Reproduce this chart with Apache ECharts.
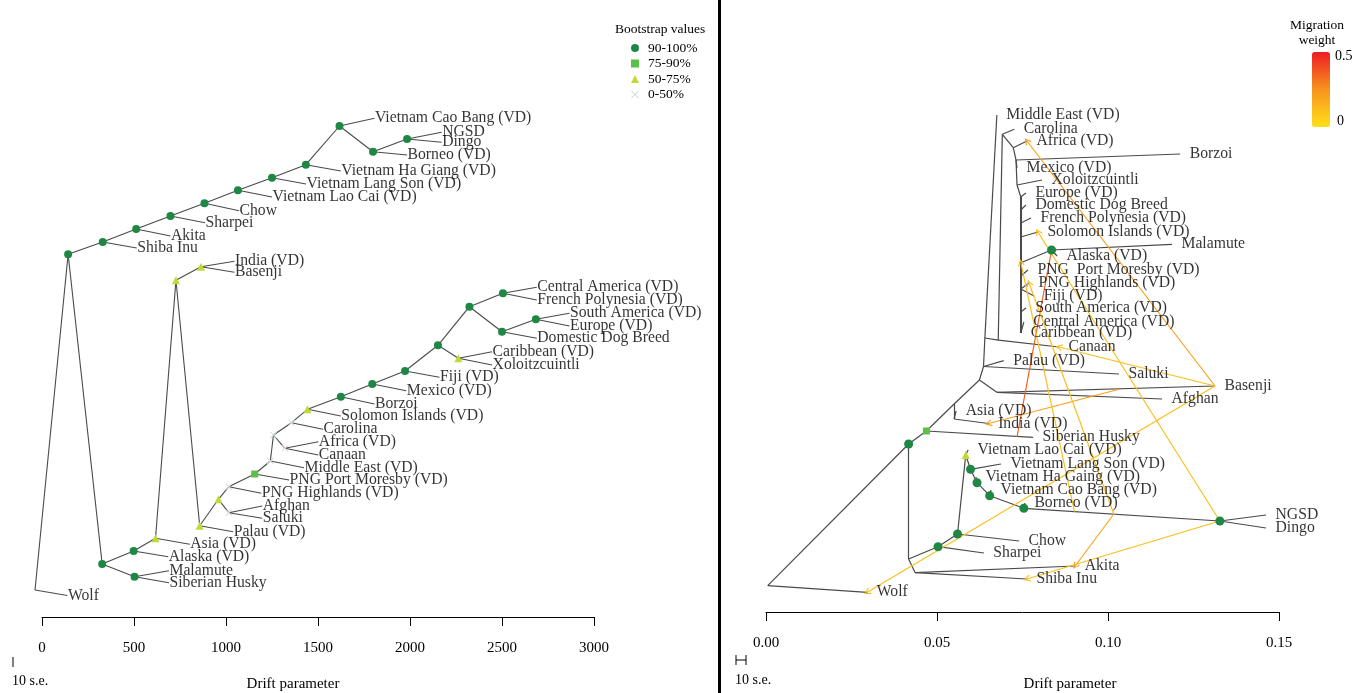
<!DOCTYPE html>
<html><head><meta charset="utf-8">
<script src="https://cdn.jsdelivr.net/npm/echarts@6/dist/echarts.min.js"></script>
<style>html,body{margin:0;padding:0;background:#fff}#c{width:1354px;height:693px}</style>
</head><body><div id="c"></div><script>
// ---------- tick labels ----------
const leftTicks = [0, 500, 1000, 1500, 2000, 2500, 3000];
const rightTicks = [0, 0.05, 0.10, 0.15];
const bootstrapClasses = ['90-100%', '75-90%', '50-75%', '0-50%'];
const classKeys = ['a', 'b', 'c', 'd'];

// ---------- left tree (drift, vertical position, bootstrap class) ----------
const leftNodes = [
  ['w0', -38, 590, ''], ['root', 142, 254.3, 'a'],
  ['shibaN', 330, 242, 'a'], ['akitaN', 512, 229, 'a'], ['sharpeiN', 698, 216, 'a'],
  ['chowN', 883, 203.3, 'a'], ['laocaiN', 1065, 190.3, 'a'], ['langsonN', 1250, 177.7, 'a'],
  ['hagiangN', 1434, 164.7, 'a'], ['caobangN', 1617, 126, 'a'], ['borneoN', 1799, 151.7, 'a'],
  ['ngsdN', 1984, 139, 'a'],
  ['b1', 327, 564, 'a'], ['alaskaN', 498, 551, 'a'], ['malN', 503, 576.7, 'a'],
  ['asiaN', 617, 538.3, 'c'], ['ibN0', 728, 280.3, 'c'], ['ibN', 864, 266.7, 'c'],
  ['palauN', 857, 525.7, 'c'], ['asN0', 959, 499.3, 'c'], ['asN', 1015, 512.7, 'd'],
  ['pnghN', 1015, 486.7, 'd'], ['pngpmN', 1156, 474, 'b'], ['meN', 1241, 461, 'd'],
  ['n435', 1258, 435, 'd'], ['afcN', 1320, 448.3, 'd'], ['carN', 1356, 422.7, 'd'],
  ['solN', 1443, 409.3, 'c'], ['borzN', 1624, 396.7, 'a'], ['mexN', 1795, 384, 'a'],
  ['fijiN', 1973, 371, 'a'], ['n345', 2152, 345.3, 'a'], ['cxN', 2263, 358.3, 'c'],
  ['n306', 2323, 306.7, 'a'], ['cfN', 2505, 293.3, 'a'], ['ddbN', 2500, 331.7, 'a'],
  ['saeN', 2684, 319.3, 'a']
];
const leftEdges = [
  ['w0', 'root'], ['root', 'shibaN'], ['shibaN', 'akitaN'], ['akitaN', 'sharpeiN'],
  ['sharpeiN', 'chowN'], ['chowN', 'laocaiN'], ['laocaiN', 'langsonN'], ['langsonN', 'hagiangN'],
  ['hagiangN', 'caobangN'], ['caobangN', 'borneoN'], ['borneoN', 'ngsdN'],
  ['root', 'b1'], ['b1', 'alaskaN'], ['b1', 'malN'], ['alaskaN', 'asiaN'], ['asiaN', 'ibN0'],
  ['ibN0', 'ibN'], ['ibN0', 'palauN'], ['palauN', 'asN0'], ['asN0', 'asN'], ['asN0', 'pnghN'],
  ['pnghN', 'pngpmN'], ['pngpmN', 'meN'], ['meN', 'n435'], ['n435', 'afcN'], ['n435', 'carN'],
  ['carN', 'solN'], ['solN', 'borzN'], ['borzN', 'mexN'], ['mexN', 'fijiN'], ['fijiN', 'n345'],
  ['n345', 'cxN'], ['n345', 'n306'], ['n306', 'cfN'], ['n306', 'ddbN'], ['ddbN', 'saeN']
];
const leftLeaves = [
  ['Vietnam Cao Bang (VD)', 1807, 118.3, 'caobangN'], ['NGSD', 2172, 132.3, 'ngsdN'],
  ['Dingo', 2172, 142.3, 'ngsdN'], ['Borneo (VD)', 1984, 155, 'borneoN'],
  ['Vietnam Ha Giang (VD)', 1624, 171, 'hagiangN'], ['Vietnam Lang Son (VD)', 1435, 184, 'langsonN'],
  ['Vietnam Lao Cai (VD)', 1250, 197, 'laocaiN'], ['Chow', 1071, 210.7, 'chowN'],
  ['Sharpei', 886, 222.7, 'sharpeiN'], ['Akita', 698, 236, 'akitaN'], ['Shiba Inu', 515, 248, 'shibaN'],
  ['India (VD)', 1046, 261.3, 'ibN'], ['Basenji', 1046, 272.3, 'ibN'],
  ['Central America (VD)', 2689, 287.3, 'cfN'], ['French Polynesia (VD)', 2689, 300, 'cfN'],
  ['South America (VD)', 2867, 313.3, 'saeN'], ['Europe (VD)', 2867, 326, 'saeN'],
  ['Domestic Dog Breed', 2689, 338.3, 'ddbN'], ['Caribbean (VD)', 2446, 351.7, 'cxN'],
  ['Xoloitzcuintli', 2446, 365, 'cxN'], ['Fiji (VD)', 2160, 377.3, 'fijiN'],
  ['Mexico (VD)', 1980, 390.7, 'mexN'], ['Borzoi', 1807, 404, 'borzN'],
  ['Solomon Islands (VD)', 1624, 416, 'solN'], ['Carolina', 1527, 429.3, 'carN'],
  ['Africa (VD)', 1502, 441.7, 'afcN'], ['Canaan', 1502, 455, 'afcN'],
  ['Middle East (VD)', 1424, 467.7, 'meN'], ['PNG Port Moresby (VD)', 1343, 480, 'pngpmN'],
  ['PNG Highlands (VD)', 1192, 493.3, 'pnghN'], ['Afghan', 1197, 506, 'asN'],
  ['Saluki', 1197, 518.3, 'asN'], ['Palau (VD)', 1039, 531.7, 'palauN'],
  ['Asia (VD)', 803, 544.3, 'asiaN'], ['Alaska (VD)', 686, 556.7, 'alaskaN'],
  ['Malamute', 690, 570.7, 'malN'], ['Siberian Husky', 690, 582.7, 'malN'],
  ['Wolf', 138, 595.5, 'w0']
];

// ---------- right tree ----------
const rightNodes = [
  ['rootR', 0.0005, 585.7, ''], ['n444', 0.0417, 444, 'a'], ['sq', 0.0469, 431, 'b'],
  ['aiN0', 0.0550, 404, ''], ['aiN', 0.0550, 419, ''], ['n380', 0.0624, 380, ''],
  ['afbN', 0.0675, 392.3, ''], ['palN', 0.0636, 366.5, ''], ['canN', 0.0640, 338, ''],
  ['k2', 0.0679, 340.2, ''], ['c1', 0.0691, 134.3, ''], ['c2', 0.0723, 147.7, ''],
  ['c3', 0.0731, 160, ''], ['x1', 0.0734, 185, ''], ['t1', 0.0745, 197, ''],
  ['t2', 0.0745, 210, ''], ['t3', 0.0745, 223, ''], ['t4', 0.0745, 237, ''],
  ['t5', 0.0745, 262.7, ''], ['t6', 0.0745, 276, ''], ['t7', 0.0745, 289, ''],
  ['t8', 0.0745, 312, ''], ['t9', 0.0745, 333, ''], ['alN', 0.0835, 250, 'a'],
  ['nb', 0.0417, 559, ''], ['shN', 0.0503, 546.7, 'a'], ['chN', 0.0560, 534, 'a'],
  ['lcN', 0.0584, 455, 'c'], ['lsN', 0.0598, 469.3, 'a'], ['hgN', 0.0617, 482.7, 'a'],
  ['cbN', 0.0654, 495.7, 'a'], ['boN', 0.0754, 508.3, 'a'], ['ndN', 0.1327, 521, 'a'],
  ['asb', 0.0436, 572.7, '']
];
const rightEdges = [
  ['rootR', 'n444'], ['n444', 'sq'], ['sq', 'aiN0'], ['aiN0', 'aiN'], ['aiN0', 'n380'],
  ['n380', 'afbN'], ['n380', 'palN'], ['palN', 'canN'], ['canN', 'k2'], ['k2', 'c1'],
  ['c1', 'c2'], ['c2', 'c3'], ['c3', 'x1'], ['x1', 't1'], ['t1', 't2'], ['t2', 't3'],
  ['t3', 't4'], ['t4', 't5'], ['t5', 'alN'], ['t5', 't6'], ['t6', 't7'], ['t7', 't8'],
  ['t8', 't9'], ['n444', 'nb'], ['nb', 'shN'], ['shN', 'chN'], ['chN', 'lcN'],
  ['lcN', 'lsN'], ['lsN', 'hgN'], ['hgN', 'cbN'], ['cbN', 'boN'], ['boN', 'ndN'], ['nb', 'asb']
];
// edges of the dense trunk that looks heavier in the reference
const rightHeavyEdges = ['t1', 't2', 't3', 't4', 't5', 't6', 't7', 't8', 't9'];
const rightLeaves = [
  ['Wolf', 0.0296, 592.3, 'rootR'], ['Siberian Husky', 0.0781, 437.3, 'sq'],
  ['Asia (VD)', 0.0556, 411, 'aiN'], ['India (VD)', 0.0651, 423.5, 'aiN'],
  ['Basenji', 0.1313, 386, 'afbN'], ['Afghan', 0.1158, 399, 'afbN'],
  ['Saluki', 0.1032, 374, 'palN'], ['Palau (VD)', 0.0695, 360.7, 'palN'],
  ['Middle East (VD)', 0.0675, 115, 'canN'], ['Canaan', 0.0857, 347, 'k2'],
  ['Carolina', 0.0726, 129.3, 'c1'], ['Africa (VD)', 0.0763, 141, 'c2'],
  ['Borzoi', 0.1211, 154, 'c3'], ['Mexico (VD)', 0.0734, 168, 'c3'],
  ['Xoloitzcuintli', 0.0807, 180, 'x1'], ['Europe (VD)', 0.0760, 193, 't1'],
  ['Domestic Dog Breed', 0.0760, 205, 't2'], ['French Polynesia (VD)', 0.0775, 218, 't3'],
  ['Solomon Islands (VD)', 0.0795, 232, 't4'], ['Malamute', 0.1187, 244.3, 'alN'],
  ['Alaska (VD)', 0.0851, 256, 'alN'], ['PNG  Port Moresby (VD)', 0.0766, 270, 't6'],
  ['PNG Highlands (VD)', 0.0769, 283, 't7'], ['Fiji (VD)', 0.0784, 296, 't7'],
  ['South America (VD)', 0.0760, 308, 't8'], ['Central America (VD)', 0.0754, 322, 't9'],
  ['Caribbean (VD)', 0.0746, 333, 't9'], ['Vietnam Lao Cai (VD)', 0.0591, 450, 'lcN'],
  ['Vietnam Lang Son (VD)', 0.0687, 464, 'lsN'], ['Vietnam Ha Gaing (VD)', 0.0614, 477, 'hgN'],
  ['Vietnam Cao Bang (VD)', 0.0658, 490, 'cbN'], ['Borneo (VD)', 0.0757, 503, 'boN'],
  ['NGSD', 0.1462, 515, 'ndN'], ['Dingo', 0.1462, 528, 'ndN'],
  ['Chow', 0.0740, 541, 'chN'], ['Sharpei', 0.0637, 553, 'shN'],
  ['Akita', 0.0904, 566, 'asb'], ['Shiba Inu', 0.0763, 579, 'asb']
];
// migration edges: source drift, source position, target, weight
const migrations = [
  [0.1313, 386, 'Africa (VD)', 0.21],
  [0.1313, 386, 'Canaan', 0.11],
  [0.1313, 386, 'Wolf', 0.11],
  [0.1035, 389, 'India (VD)', 0.21],
  [0.0734, 437, 'alN', 0.36],
  [0.1327, 521, 'Solomon Islands (VD)', 0.11],
  [0.1327, 521, 'Shiba Inu', 0.11],
  [0.1017, 514, 'Akita', 0.19],
  [0.1017, 514, 'PNG Highlands (VD)', 0.11],
  [0.0902, 511.6, 't5', 0.11]
];

// ---------- helpers ----------
const SERIF = 'Liberation Serif';
const INK = '#000';
function posMap(nodes, leaves) {
  const m = {};
  nodes.forEach(n => { m[n[0]] = [n[1], n[2]]; });
  leaves.forEach(l => { m[l[0]] = [l[1], l[2]]; });
  return m;
}
const LP = posMap(leftNodes, leftLeaves);
const RP = posMap(rightNodes, rightLeaves);
function edgeData(edges, leaves, P, heavy) {
  const all = edges.concat(leaves.map(l => [l[3], l[0]]));
  return all.map(e => {
    const d = { coords: [P[e[0]], P[e[1]]] };
    if (heavy && heavy.indexOf(e[1]) >= 0 && heavy.indexOf(e[0]) >= 0) d.lineStyle = { width: 2 };
    return d;
  });
}
const stops = [[0, [255, 224, 27]], [0.25, [247, 148, 29]], [0.5, [237, 28, 36]]];
function weightColor(w) {
  for (let i = 0; i < stops.length - 1; i++) {
    const [a, ca] = stops[i], [b, cb] = stops[i + 1];
    if (w <= b) {
      const t = (w - a) / (b - a);
      const c = ca.map((v, k) => Math.round(v + (cb[k] - v) * t));
      return 'rgb(' + c.join(',') + ')';
    }
  }
  return 'rgb(237,28,36)';
}
const markerStyle = {
  a: { symbol: 'circle', size: 8, color: '#1e8744' },
  b: { symbol: 'rect', size: 7, color: '#5cbf48' },
  c: { symbol: 'triangle', size: 8, color: '#c2d935' },
  d: { symbol: 'path://M0,1 L1,0 L5,4 L9,0 L10,1 L6,5 L10,9 L9,10 L5,6 L1,10 L0,9 L4,5 Z', size: 7, color: '#d4e2d4' }
};
const chevron = 'path://M5,0 L10,9 L8.6,10 L5,3.2 L1.4,10 L0,9 Z';

const series = [];
series.push({ type: 'lines', coordinateSystem: 'cartesian2d', xAxisIndex: 0, yAxisIndex: 0,
  polyline: false, clip: false, silent: true, z: 2,
  lineStyle: { color: '#4a4a4a', width: 1.1, opacity: 1 }, data: edgeData(leftEdges, leftLeaves, LP) });
series.push({ type: 'lines', coordinateSystem: 'cartesian2d', xAxisIndex: 1, yAxisIndex: 1,
  polyline: false, clip: false, silent: true, z: 2,
  lineStyle: { color: '#4a4a4a', width: 1.2, opacity: 1 },
  data: edgeData(rightEdges, rightLeaves, RP, rightHeavyEdges) });
migrations.forEach(m => {
  const col = weightColor(m[3]);
  series.push({ type: 'lines', coordinateSystem: 'cartesian2d', xAxisIndex: 1, yAxisIndex: 1,
    clip: false, silent: true, z: 3, symbol: ['none', chevron], symbolSize: 7,
    lineStyle: { color: col, width: 1.2, opacity: 1 },
    data: [{ coords: [[m[0], m[1]], RP[m[2]]] }] });
});
[[leftNodes, 0], [rightNodes, 1]].forEach(([nodes, ax]) => {
  classKeys.forEach((k, i) => {
    const pts = nodes.filter(n => n[3] === k).map(n => [n[1], n[2]]);
    if (!pts.length) return;
    const s = markerStyle[k];
    series.push({ type: 'scatter', name: bootstrapClasses[i], xAxisIndex: ax, yAxisIndex: ax,
      symbol: s.symbol, symbolSize: ax === 1 && k === 'a' ? 9 : s.size, clip: false, silent: true, z: 4,
      itemStyle: { color: s.color, opacity: 1 }, data: pts });
  });
});
[[leftLeaves, 0, 0, -2], [rightLeaves, 1, 9, 0]].forEach(([leaves, ax, dist, dx]) => {
  series.push({ type: 'scatter', xAxisIndex: ax, yAxisIndex: ax, symbolSize: 1, clip: false, silent: true, z: 5,
    itemStyle: { color: 'rgba(0,0,0,0)' },
    label: { show: true, position: 'right', distance: dist, formatter: '{b}', fontFamily: SERIF,
      fontSize: 15.7, color: INK, offset: [dx, 1] },
    labelLayout: { hideOverlap: false },
    data: leaves.map(l => ({ name: l[0], value: [l[1], l[2]] })) });
});
const dummyIndex = series.length;
series.push({ type: 'scatter', xAxisIndex: 1, yAxisIndex: 1, data: [], silent: true });

const axisCommon = {
  type: 'value',
  axisLine: { show: true, onZero: false, lineStyle: { color: INK, width: 1 } },
  axisTick: { show: true, length: 9, lineStyle: { color: INK, width: 1 } },
  splitLine: { show: false }
};
const option = {
  animation: false,
  backgroundColor: '#fff',
  grid: [
    { left: 42, width: 552, top: 0, height: 617, containLabel: false, outerBoundsMode: 'none' },
    { left: 766, width: 513, top: 0, height: 612, containLabel: false, outerBoundsMode: 'none' }
  ],
  xAxis: [
    Object.assign({}, axisCommon, { gridIndex: 0, min: leftTicks[0], max: leftTicks[leftTicks.length - 1],
      interval: leftTicks[1] - leftTicks[0],
      axisLabel: { fontFamily: SERIF, fontSize: 15, color: INK, margin: 24, formatter: v => String(v) } }),
    Object.assign({}, axisCommon, { gridIndex: 1, min: rightTicks[0], max: rightTicks[rightTicks.length - 1],
      interval: rightTicks[1] - rightTicks[0],
      axisLabel: { fontFamily: SERIF, fontSize: 15, color: INK, margin: 24, formatter: v => v.toFixed(2) } })
  ],
  yAxis: [
    { type: 'value', gridIndex: 0, min: 0, max: 617, inverse: true, show: false },
    { type: 'value', gridIndex: 1, min: 0, max: 612, inverse: true, show: false }
  ],
  legend: {
    orient: 'vertical', left: 631, top: 41, padding: 0, itemWidth: 8, itemHeight: 8, itemGap: 1.5,
    selectedMode: false, data: bootstrapClasses,
    textStyle: { fontFamily: SERIF, fontSize: 13.5, color: INK, padding: [0, 0, 0, 4] }
  },
  visualMap: {
    type: 'continuous', min: 0, max: 0.5, seriesIndex: [dummyIndex], calculable: false,
    orient: 'vertical', left: 1312, top: 52, padding: 0, itemWidth: 18, itemHeight: 75,
    text: ['', ''], showLabel: false,
    inRange: { color: ['#ffe01b', '#f7941d', '#ed1c24'] }
  },
  graphic: [
    { type: 'rect', left: 718, top: 0, shape: { width: 3, height: 693 }, style: { fill: '#000' } },
    { type: 'text', left: 615, top: 22, style: { text: 'Bootstrap values', font: '13.5px "Liberation Serif"', fill: INK } },
    { type: 'text', x: 1317, y: 25, style: { text: 'Migration', font: '13.5px "Liberation Serif"', fill: INK, textAlign: 'center', textVerticalAlign: 'middle' } },
    { type: 'text', x: 1317, y: 40, style: { text: 'weight', font: '13.5px "Liberation Serif"', fill: INK, textAlign: 'center', textVerticalAlign: 'middle' } },
    { type: 'text', x: 1335, y: 56, style: { text: '0.5', font: '14px "Liberation Serif"', fill: INK, textVerticalAlign: 'middle' } },
    { type: 'text', x: 1337, y: 121, style: { text: '0', font: '14px "Liberation Serif"', fill: INK, textVerticalAlign: 'middle' } },
    { type: 'line', shape: { x1: 13, y1: 657, x2: 13, y2: 667 }, style: { stroke: INK, lineWidth: 1 } },
    { type: 'text', x: 12, y: 681, style: { text: '10 s.e.', font: '14px "Liberation Serif"', fill: INK, textVerticalAlign: 'middle' } },
    { type: 'text', x: 293, y: 684, style: { text: 'Drift parameter', font: '15px "Liberation Serif"', fill: INK, textAlign: 'center', textVerticalAlign: 'middle' } },
    { type: 'line', shape: { x1: 736, y1: 660, x2: 746, y2: 660 }, style: { stroke: INK, lineWidth: 1 } },
    { type: 'line', shape: { x1: 736, y1: 655, x2: 736, y2: 665 }, style: { stroke: INK, lineWidth: 1 } },
    { type: 'line', shape: { x1: 746, y1: 655, x2: 746, y2: 665 }, style: { stroke: INK, lineWidth: 1 } },
    { type: 'text', x: 735, y: 680, style: { text: '10 s.e.', font: '14px "Liberation Serif"', fill: INK, textVerticalAlign: 'middle' } },
    { type: 'text', x: 1070, y: 684, style: { text: 'Drift parameter', font: '15px "Liberation Serif"', fill: INK, textAlign: 'center', textVerticalAlign: 'middle' } }
  ],
  series: series
};
const chart = echarts.init(document.getElementById('c'), null, { renderer: 'canvas' });
chart.setOption(option);
</script></body></html>
